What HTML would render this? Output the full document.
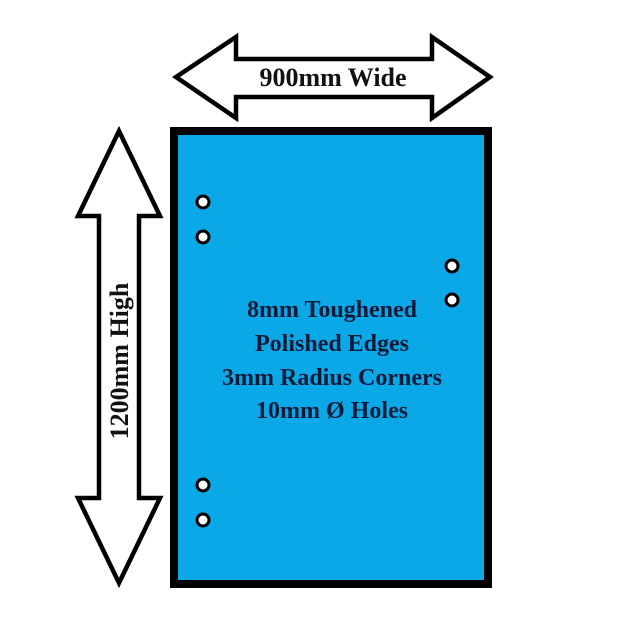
<!DOCTYPE html>
<html><head><style>
html,body{margin:0;padding:0;background:#fff;}
svg{display:block}
</style></head><body>
<svg width="623" height="624" viewBox="0 0 623 624" xmlns="http://www.w3.org/2000/svg">
<rect width="623" height="624" fill="#fff"/>
<polygon points="176,77 236,37 236,59 432,59 432,37 490,77 432,118 432,97 236,97 236,118" fill="#fff" stroke="#000" stroke-width="4.5" stroke-linejoin="miter"/>
<text x="333" y="86" font-family="Liberation Serif, serif" font-weight="bold" font-size="26" text-anchor="middle" fill="#111">900mm Wide</text>
<polygon points="119,131 160,216 139,216 139,498 160,498 119,583 78,498 99,498 99,216 78,216" fill="#fff" stroke="#000" stroke-width="4.5" stroke-linejoin="miter"/>
<text transform="translate(128,361) rotate(-90)" font-family="Liberation Serif, serif" font-weight="bold" font-size="26" text-anchor="middle" fill="#111">1200mm High</text>
<rect x="174" y="131" width="314" height="453" fill="#0aa8e6" stroke="#000" stroke-width="8"/>
<g fill="#fff" stroke="#000" stroke-width="3">
<circle cx="203" cy="202" r="6"/><circle cx="203" cy="237" r="6"/>
<circle cx="452" cy="266" r="6"/><circle cx="452" cy="300" r="6"/>
<circle cx="203" cy="485" r="6"/><circle cx="203" cy="520" r="6"/>
</g>
<g font-family="Liberation Serif, serif" font-weight="bold" font-size="24" text-anchor="middle" fill="#0b1a38">
<text x="332" y="317">8mm Toughened</text>
<text x="332" y="351">Polished Edges</text>
<text x="332" y="385">3mm Radius Corners</text>
<text x="332" y="418">10mm Ø Holes</text>
</g>
</svg>
</body></html>
